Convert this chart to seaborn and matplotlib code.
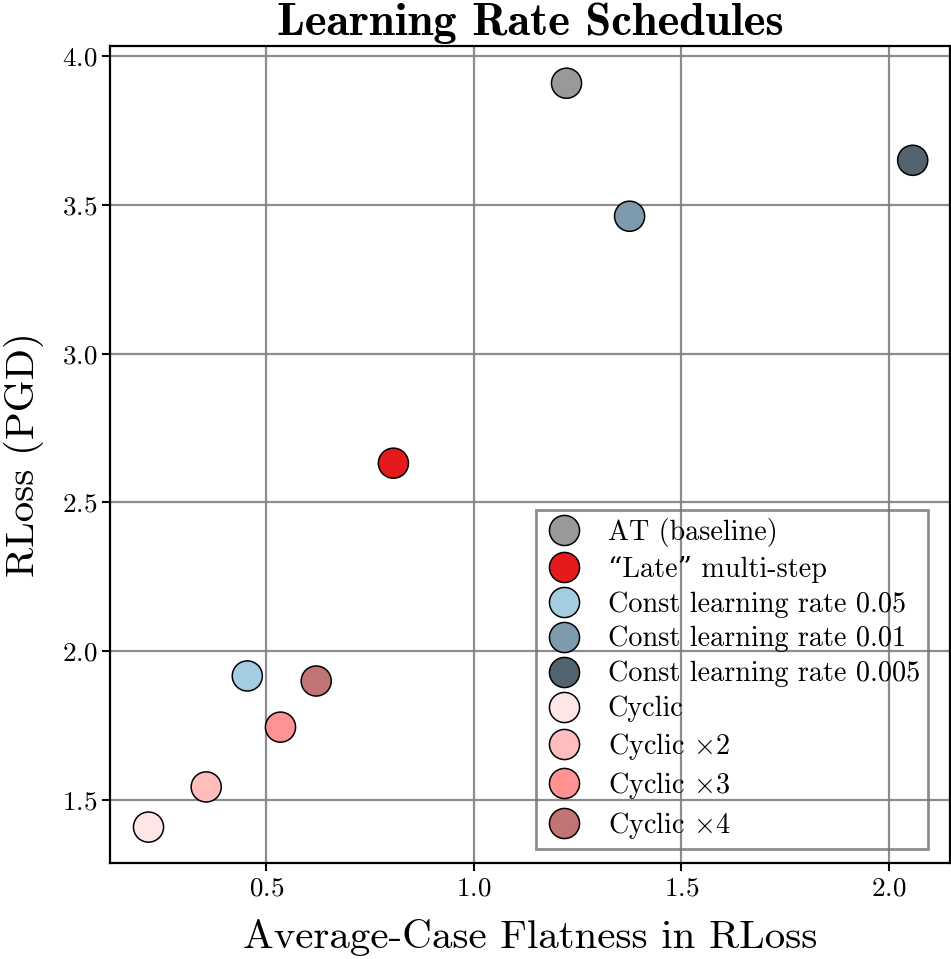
import matplotlib
matplotlib.use("Agg")
from matplotlib import pyplot as plt
import seaborn as sns
import pandas as pd

# values
labels = ["AT (baseline)", "\u201cLate\u201d multi-step", "Const learning rate 0.05",
          "Const learning rate 0.01", "Const learning rate 0.005", "Cyclic",
          r"Cyclic $\times$2", r"Cyclic $\times$3", r"Cyclic $\times$4"]
flatness = [1.223, 0.806, 0.454, 1.375, 2.057, 0.216, 0.355, 0.534, 0.620]
rloss = [3.909, 2.632, 1.917, 3.462, 3.650, 1.409, 1.544, 1.745, 1.900]
colors = ["#999999", "#e41a1c", "#a3cde3", "#7d9bad", "#52646f",
          "#ffe6e6", "#ffbdbd", "#ff9393", "#c07474"]
x_ticks = [0.5, 1.0, 1.5, 2.0]
y_ticks = [1.5, 2.0, 2.5, 3.0, 3.5, 4.0]

sns.set_style("white")
plt.rcParams['font.family'] = ['cmr10', 'DejaVu Serif']
plt.rcParams['mathtext.fontset'] = 'cm'
plt.rcParams['axes.formatter.use_mathtext'] = True
plt.rcParams['axes.unicode_minus'] = False
for key in ['text.color', 'axes.labelcolor', 'xtick.color', 'ytick.color',
            'xtick.labelcolor', 'ytick.labelcolor']:
    plt.rcParams[key] = 'black'

df = pd.DataFrame({"method": labels, "flat": flatness, "rloss": rloss})

fig, ax = plt.subplots(figsize=(9.51, 9.59), dpi=100)
fig.subplots_adjust(left=0.116, right=0.999, top=0.952, bottom=0.1)

ax.grid(True, color="#808080", linewidth=1.6, alpha=0.9)
ax.set_axisbelow(True)

sns.scatterplot(data=df, x="flat", y="rloss", hue="method", hue_order=labels,
                palette=colors, s=470, edgecolor="black", linewidth=1.1,
                ax=ax, zorder=3)

ax.set_xlim(0.124, 2.147)
ax.set_ylim(1.288, 4.034)
ax.set_xticks(x_ticks)
ax.set_yticks(y_ticks)
ax.tick_params(axis="both", which="major", direction="out", length=6, width=1.5,
               color="black", labelsize=19.5, bottom=True, left=True)
for sp in ax.spines.values():
    sp.set_color("black")
    sp.set_linewidth(1.6)

ax.set_xlabel("Average-Case Flatness in RLoss", fontsize=29.5, labelpad=14)
ax.set_ylabel("RLoss (PGD)", fontsize=29.5, labelpad=13)
ax.set_title("Learning Rate Schedules", fontsize=33.5, family=['cmb10', 'DejaVu Serif'],
             pad=8)

leg = ax.legend(loc="lower right", bbox_to_anchor=(0.974, 0.017), fontsize=20.3,
                frameon=True, fancybox=False, edgecolor="#707070",
                borderpad=0.3, labelspacing=0.3, handlelength=1.4,
                handletextpad=0.85, borderaxespad=0, markerscale=1.0)
leg.get_frame().set_facecolor("none")
leg.get_frame().set_linewidth(2.0)
for h in leg.legend_handles:
    if hasattr(h, "set_markeredgecolor"):
        h.set_markeredgecolor("black")
    else:
        h.set_edgecolor("black")

plt.savefig("out.png", dpi=100)
